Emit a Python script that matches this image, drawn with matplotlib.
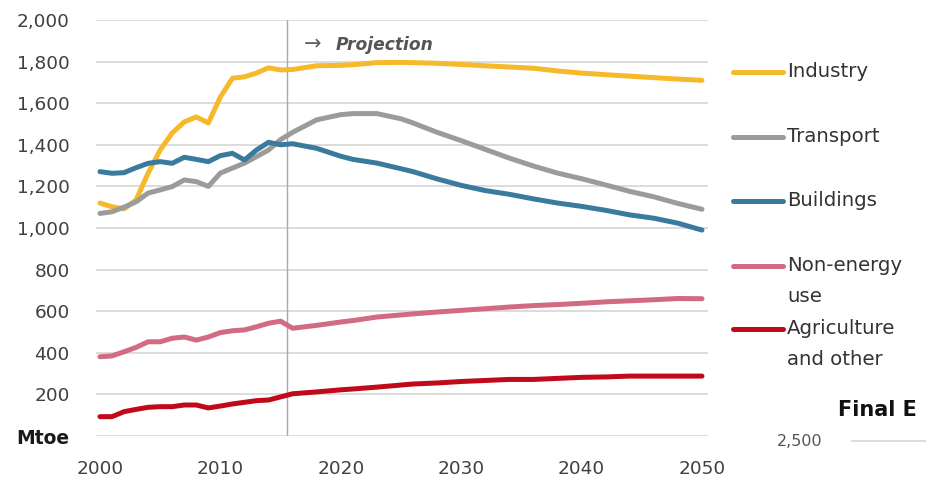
import matplotlib.pyplot as plt
from matplotlib.lines import Line2D

# anos: histórico anual até 2016, depois pontos da projeção
years = [2000, 2001, 2002, 2003, 2004, 2005, 2006, 2007, 2008, 2009,
         2010, 2011, 2012, 2013, 2014, 2015, 2016, 2018, 2020, 2021,
         2023, 2025, 2026, 2028, 2030, 2032, 2034, 2036, 2038, 2040,
         2042, 2044, 2046, 2048, 2050]

industry = [1120, 1102, 1092, 1135, 1264, 1375, 1457, 1510, 1534, 1505,
            1630, 1720, 1727, 1745, 1770, 1760, 1762, 1780, 1782, 1785,
            1795, 1796, 1795, 1792, 1786, 1780, 1774, 1768, 1755, 1745,
            1737, 1730, 1723, 1716, 1710]
transport = [1070, 1078, 1100, 1126, 1168, 1183, 1199, 1231, 1223, 1200,
             1264, 1288, 1312, 1343, 1375, 1425, 1460, 1520, 1545, 1550,
             1550, 1525, 1505, 1460, 1420, 1378, 1336, 1298, 1264, 1237,
             1207, 1176, 1150, 1118, 1090]
buildings = [1271, 1263, 1266, 1290, 1311, 1319, 1311, 1340, 1330, 1319,
             1348, 1359, 1327, 1375, 1412, 1400, 1405, 1383, 1345, 1330,
             1312, 1285, 1271, 1236, 1205, 1180, 1162, 1140, 1120, 1104,
             1085, 1063, 1047, 1023, 990]
non_energy = [381, 385, 405, 426, 453, 453, 470, 476, 461, 476,
              497, 506, 510, 525, 542, 552, 518, 532, 548, 555,
              572, 582, 587, 596, 604, 612, 620, 627, 632, 638,
              645, 650, 655, 661, 660]
agriculture = [93, 93, 117, 128, 138, 141, 141, 149, 149, 135,
               144, 154, 162, 170, 173, 188, 203, 212, 222, 226,
               235, 245, 250, 255, 262, 267, 272, 272, 277, 282,
               284, 288, 288, 288, 288]

series = [
    ('Industry', industry, '#F6B929'),
    ('Transport', transport, '#9B9B9B'),
    ('Buildings', buildings, '#3A7A9C'),
    ('Non-energy\nuse', non_energy, '#D26A82'),
    ('Agriculture\nand other', agriculture, '#C00A1A'),
]

yticks = [0, 200, 400, 600, 800, 1000, 1200, 1400, 1600, 1800, 2000]
ytick_labels = ['Mtoe', '200', '400', '600', '800', '1,000', '1,200',
                '1,400', '1,600', '1,800', '2,000']
xticks = [2000, 2010, 2020, 2030, 2040, 2050]

plt.rcParams['font.family'] = ['DejaVu Sans']

fig = plt.figure(figsize=(9.26, 4.84), dpi=100)
ax = fig.add_axes([96 / 926, 1 - 436 / 484, 612 / 926, 416 / 484])

for name, vals, color in series:
    ax.plot(years, vals, color=color, lw=3.6, solid_capstyle='round',
            solid_joinstyle='round', zorder=3)

# linha que separa histórico da projeção
ax.axvline(2015.5, color='#A8A8A8', lw=1.0, zorder=2)
ax.text(2016.9, 1882, '\u2192', color='#606060', fontsize=15,
        va='center', ha='left')
ax.text(2019.6, 1880, 'Projection', color='#555555', fontsize=12.3,
        fontweight='bold', style='italic', va='center', ha='left')

ax.set_xlim(1999.67, 2050.5)
ax.set_ylim(0, 2000)
ax.set_yticks(yticks)
ax.set_yticklabels(ytick_labels)
ax.set_xticks(xticks)
ax.yaxis.grid(True, color='#D9D9D9', lw=1.3, zorder=0)
ax.set_axisbelow(True)
for s in ax.spines.values():
    s.set_visible(False)
ax.tick_params(axis='both', length=0, labelsize=13.3, labelcolor='#404040')
ax.tick_params(axis='y', pad=19)
ax.tick_params(axis='x', pad=17)
lbl0 = ax.get_yticklabels()[0]
lbl0.set_fontweight('bold')
lbl0.set_fontsize(13.5)
lbl0.set_color('#1a1a1a')

# legenda à direita
leg_y = [72, 137, 201, 266, 329]
for (name, vals, color), y in zip(series, leg_y):
    fy = 1 - y / 484
    fig.add_artist(Line2D([733 / 926, 783 / 926], [fy, fy], color=color,
                          lw=3.6, solid_capstyle='round'))
    fig.text(787 / 926, fy + 10 / 484, name, fontsize=14.2, color='#333333',
             va='top', ha='left', linespacing=1.8)

# início do gráfico seguinte, na borda direita
fig.text(838 / 926, 1 - 410 / 484, 'Final E', fontsize=15,
         fontweight='bold', color='#111111', va='center', ha='left')
fig.text(823 / 926, 1 - 441 / 484, '2,500', fontsize=11.5, color='#555555',
         va='center', ha='right')
fig.add_artist(Line2D([852 / 926, 1.0], [1 - 441 / 484, 1 - 441 / 484],
                      color='#D9D9D9', lw=1.3))

fig.savefig('out.png', dpi=100)
